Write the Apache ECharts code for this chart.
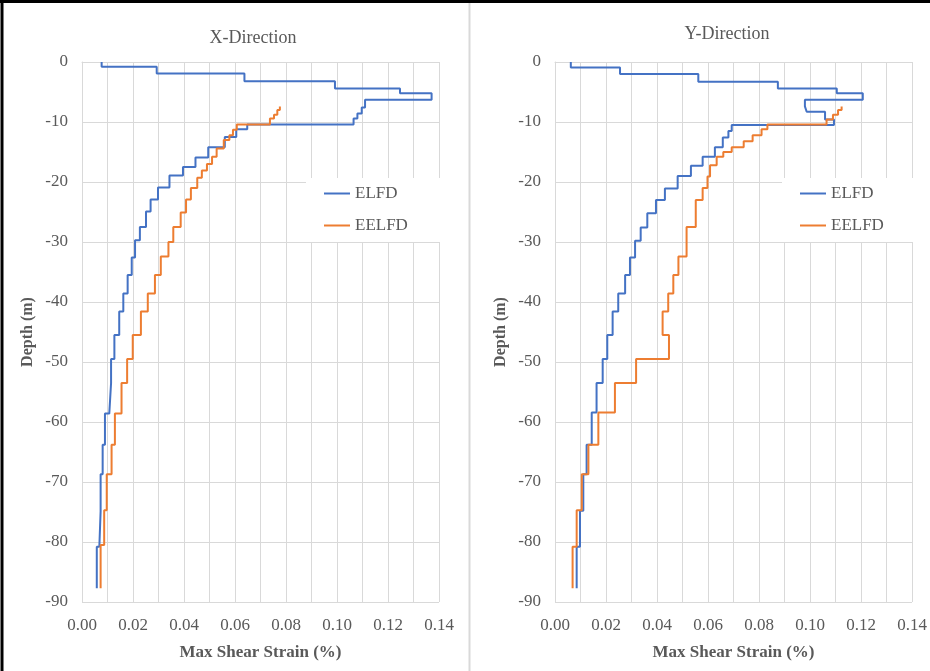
<!DOCTYPE html>
<html>
<head>
<meta charset="utf-8">
<script src="https://cdn.jsdelivr.net/npm/echarts@6/dist/echarts.min.js"></script>
<style>
html,body{margin:0;padding:0;background:#fff;}
#chart{width:930px;height:671px;}
</style>
</head>
<body>
<div id="chart"></div>
<script>
// ---- Data (depth boundaries in m, strain per layer in %) ----
const chartTitles = ['X-Direction', 'Y-Direction'];
const seriesNames = ['ELFD', 'EELFD'];
const strainTicks = [0, 0.02, 0.04, 0.06, 0.08, 0.10, 0.12, 0.14];
const depthTicks = [0, -10, -20, -30, -40, -50, -60, -70, -80, -90];

// X-Direction, ELFD
const xElfdDepth = [0, -0.8, -1.9, -3.2, -4.4, -5.2, -6.3, -7.6, -8.6, -9.4, -10.4, -11.2, -12.5, -14.2, -15.9, -17.5, -18.9, -20.9, -22.9, -24.9, -27.5, -29.7, -32.6, -35.5, -38.6, -41.6, -45.5, -49.5, -53.5, -58.6, -63.8, -68.7, -74.9, -80.8, -87.7];
const xElfdStrain = [0.0077, 0.0293, 0.0637, 0.0992, 0.1247, 0.1371, 0.111, 0.1097, 0.108, 0.1065, 0.0648, 0.0605, 0.056, 0.0495, 0.0445, 0.0396, 0.0343, 0.0298, 0.0269, 0.0251, 0.0227, 0.0208, 0.0195, 0.0179, 0.0162, 0.0146, 0.0127, 0.0114, 0.0107, 0.009, 0.0081, 0.0073, 0.0068, 0.0058];

// X-Direction, EELFD
const xEelfdDepth = [-7.4, -8.0, -8.8, -9.4, -10.4, -11.3, -12.2, -13.0, -14.4, -15.8, -17.0, -18.1, -19.3, -21.0, -22.9, -25.1, -27.5, -30.0, -32.4, -35.5, -38.6, -41.6, -45.5, -49.5, -53.5, -58.6, -63.8, -68.7, -74.7, -80.5, -87.7];
const xEelfdStrain = [0.0776, 0.0766, 0.0753, 0.0737, 0.0607, 0.0592, 0.0578, 0.0556, 0.0528, 0.051, 0.049, 0.047, 0.0452, 0.0427, 0.0408, 0.0387, 0.0358, 0.0339, 0.0309, 0.0286, 0.0258, 0.0231, 0.0199, 0.0177, 0.0155, 0.0129, 0.0116, 0.0097, 0.0087, 0.0073];

// Y-Direction, ELFD
const yElfdDepth = [0, -0.9, -2.0, -3.3, -4.4, -5.2, -6.3, -7.4, -8.3, -9.6, -10.5, -11.5, -12.6, -14.2, -15.8, -17.3, -19.0, -21.1, -23.0, -25.2, -27.6, -29.8, -32.6, -35.5, -38.6, -41.6, -45.5, -49.5, -53.5, -58.4, -63.8, -68.7, -74.8, -80.8, -87.7];
const yElfdStrain = [0.0062, 0.0255, 0.0562, 0.0874, 0.1105, 0.1207, 0.098, 0.0987, 0.1059, 0.1094, 0.0693, 0.068, 0.0658, 0.0627, 0.0579, 0.0533, 0.0481, 0.0431, 0.0396, 0.0362, 0.0336, 0.0314, 0.0294, 0.0275, 0.0248, 0.0226, 0.0205, 0.0187, 0.0163, 0.0144, 0.0124, 0.0111, 0.0098, 0.0085];

// Y-Direction, EELFD
const yEelfdDepth = [-7.4, -8.0, -8.8, -9.6, -10.4, -11.2, -12.2, -13.2, -14.2, -15.0, -15.8, -17.2, -19.1, -21.0, -23.0, -27.5, -32.4, -35.5, -38.6, -41.6, -45.5, -49.5, -53.5, -58.4, -63.8, -68.7, -74.7, -80.8, -87.7];
const yEelfdStrain = [0.1124, 0.1110, 0.1090, 0.1065, 0.0833, 0.081, 0.0775, 0.074, 0.0693, 0.066, 0.0634, 0.0608, 0.0598, 0.0579, 0.0552, 0.0516, 0.0484, 0.0464, 0.0444, 0.0422, 0.0447, 0.0318, 0.0235, 0.017, 0.0131, 0.0105, 0.0085, 0.0069];

// ---- Build step profiles ----
function steps(depths, strains) {
  const pts = [];
  for (let i = 0; i < strains.length; i++) {
    pts.push([strains[i], depths[i]]);
    pts.push([strains[i], depths[i + 1]]);
  }
  return pts;
}

const SERIF = '"Liberation Serif", "Times New Roman", serif';
const TXT = '#595959';
const GRIDC = '#d9d9d9';
const colors = ['#4472C4', '#ED7D31'];

function xAxisCfg(idx) {
  return {
    type: 'value', gridIndex: idx, min: 0, max: 0.14, interval: 0.02,
    name: 'Max Shear Strain (%)', nameLocation: 'middle', nameGap: 42,
    nameTextStyle: { fontFamily: SERIF, fontSize: 17, fontWeight: 'bold', color: TXT },
    axisLine: { show: true, lineStyle: { color: GRIDC, width: 1 } },
    axisTick: { show: false },
    axisLabel: { fontFamily: SERIF, fontSize: 17, color: TXT, margin: 15,
      formatter: v => strainTicks.find(t => Math.abs(t - v) < 1e-9) !== undefined ? v.toFixed(2) : '' },
    splitLine: { show: true, lineStyle: { color: GRIDC, width: 1 } },
    minorTick: { show: false, splitNumber: 2 },
    minorSplitLine: { show: true, lineStyle: { color: GRIDC, width: 1 } }
  };
}
function yAxisCfg(idx) {
  return {
    type: 'value', gridIndex: idx, min: depthTicks[depthTicks.length - 1], max: depthTicks[0], interval: 10,
    name: 'Depth (m)', nameLocation: 'middle', nameGap: 46, nameRotate: 90,
    nameTextStyle: { fontFamily: SERIF, fontSize: 16, fontWeight: 'bold', color: TXT },
    axisLine: { show: true, lineStyle: { color: GRIDC, width: 1 } },
    axisTick: { show: false },
    axisLabel: { fontFamily: SERIF, fontSize: 17, color: TXT, margin: 14 },
    splitLine: { show: true, lineStyle: { color: GRIDC, width: 1 } }
  };
}
function lineSeries(name, xi, data, color, z) {
  return {
    name: name, type: 'line', xAxisIndex: xi, yAxisIndex: xi, data: data,
    symbol: 'none', showSymbol: false, z: z,
    lineStyle: { color: color, width: 2 }, itemStyle: { color: color }
  };
}
function legendCfg(left) {
  return {
    data: seriesNames, orient: 'vertical', left: left, top: 178,
    backgroundColor: '#fff', padding: [7, 40, 8, 18], itemGap: 15,
    icon: 'rect', itemWidth: 26, itemHeight: 2,
    textStyle: { fontFamily: SERIF, fontSize: 17, color: TXT }
  };
}

const chart = echarts.init(document.getElementById('chart'), null, { renderer: 'canvas' });
chart.setOption({
  animation: false,
  backgroundColor: '#fff',
  title: [
    { text: chartTitles[0], left: 248, top: 24, textAlign: 'center',
      textStyle: { fontFamily: SERIF, fontSize: 18, fontWeight: 'normal', color: TXT } },
    { text: chartTitles[1], left: 722, top: 20, textAlign: 'center',
      textStyle: { fontFamily: SERIF, fontSize: 18, fontWeight: 'normal', color: TXT } }
  ],
  grid: [
    { left: 82, top: 62, width: 357, height: 540 },
    { left: 555, top: 62, width: 357, height: 540 }
  ],
  xAxis: [xAxisCfg(0), xAxisCfg(1)],
  yAxis: [yAxisCfg(0), yAxisCfg(1)],
  legend: [legendCfg(306), legendCfg(782)],
  series: [
    lineSeries(seriesNames[0], 0, steps(xElfdDepth, xElfdStrain), colors[0], 2),
    lineSeries(seriesNames[1], 0, steps(xEelfdDepth, xEelfdStrain), colors[1], 3),
    lineSeries(seriesNames[0], 1, steps(yElfdDepth, yElfdStrain), colors[0], 2),
    lineSeries(seriesNames[1], 1, steps(yEelfdDepth, yEelfdStrain), colors[1], 3)
  ],
  graphic: [
    { type: 'line', shape: { x1: 0, y1: 1.5, x2: 930, y2: 1.5 }, style: { stroke: '#000', lineWidth: 3 }, z: 100 },
    { type: 'line', shape: { x1: 2, y1: 0, x2: 2, y2: 671 }, style: { stroke: '#000', lineWidth: 3 }, z: 100 },
    { type: 'line', shape: { x1: 469.5, y1: 3, x2: 469.5, y2: 671 }, style: { stroke: GRIDC, lineWidth: 2 }, z: 100 }
  ]
});
</script>
</body>
</html>
